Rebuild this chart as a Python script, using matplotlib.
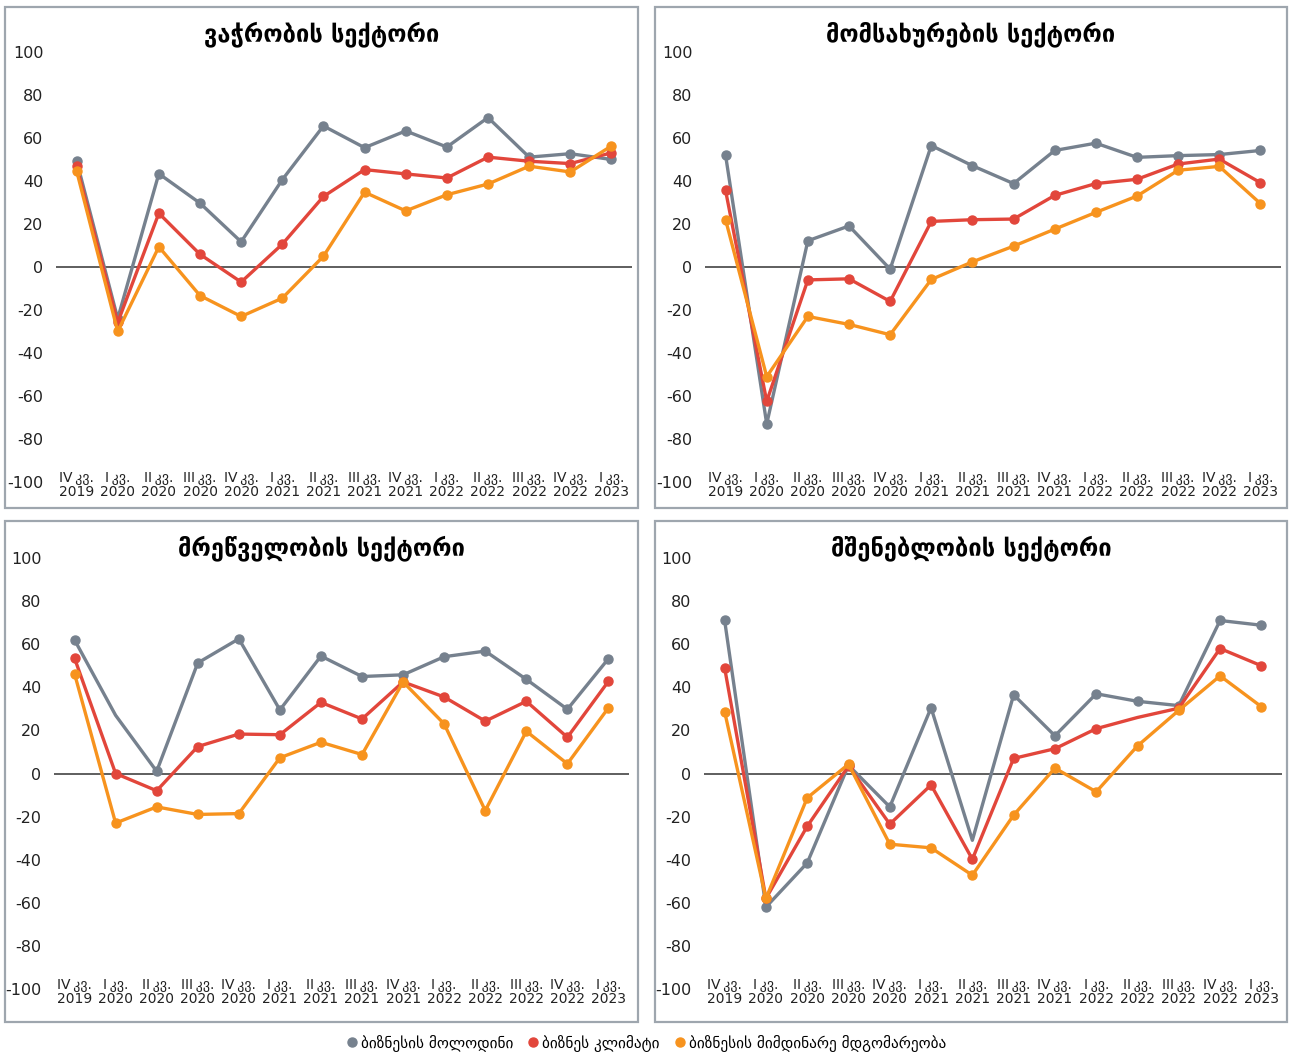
import matplotlib
matplotlib.use("Agg")
import matplotlib.pyplot as plt
from matplotlib.patches import Rectangle
from matplotlib.lines import Line2D

# კატეგორიები (კვარტლები)
kvartlebi = ["IV\u2009კვ.\n2019", "I\u2009კვ.\n2020", "II\u2009კვ.\n2020", "III\u2009კვ.\n2020",
             "IV\u2009კვ.\n2020", "I\u2009კვ.\n2021", "II\u2009კვ.\n2021", "III\u2009კვ.\n2021",
             "IV\u2009კვ.\n2021", "I\u2009კვ.\n2022", "II\u2009კვ.\n2022", "III\u2009კვ.\n2022",
             "IV\u2009კვ.\n2022", "I\u2009კვ.\n2023"]

seriebi = ["ბიზნესის მოლოდინი", "ბიზნეს კლიმატი", "ბიზნესის მიმდინარე მდგომარეობა"]
ferebi = ["#76818e", "#e2463b", "#f7931e"]

sataurebi = ["ვაჭრობის სექტორი", "მომსახურების სექტორი",
             "მრეწველობის სექტორი", "მშენებლობის სექტორი"]

# ვაჭრობა
vachroba_molodini = [49.5, -24, 43.4, 29.7, 11.7, 40.6, 65.6, 55.5, 63.3, 55.8, 69.5, 51.1, 52.7, 50]
vachroba_klimati = [46.9, -25.8, 25, 5.9, -7, 10.6, 32.8, 45.3, 43.3, 41.4, 51.1, 49.2, 48.1, 53.1]
vachroba_mdgomareoba = [44.8, -30, 9.4, -13.3, -23, -14.5, 5, 34.8, 26.1, 33.6, 38.6, 46.9, 44.2, 56.3]

# მომსახურება
momsaxureba_molodini = [52, -73, 12.2, 19.1, -1, 56.5, 47.1, 38.8, 54.2, 57.6, 51, 51.8, 52.3, 54.2]
momsaxureba_klimati = [35.6, -62.5, -6, -5.5, -16, 21.2, 22, 22.3, 33.3, 38.8, 40.8, 47.9, 50.2, 39.2]
momsaxureba_mdgomareoba = [22, -51, -23, -26.7, -31.5, -5.8, 2.4, 9.7, 17.6, 25.4, 33, 45, 46.8, 29.5]

# მრეწველობა
mretsveloba_molodini = [62, 27, 1, 51.3, 62.5, 29.5, 54.5, 45, 45.8, 54.2, 56.8, 43.7, 29.8, 53.3]
mretsveloba_klimati = [53.5, 0, -8, 12.5, 18.3, 18, 33, 25.3, 42.5, 35.5, 24.3, 33.5, 16.8, 42.8]
mretsveloba_mdgomareoba = [46.3, -23, -15.5, -19, -18.6, 7.3, 14.5, 8.8, 42.5, 23, -17.2, 19.6, 4.5, 30.5]

# მშენებლობა
msheneobloba_molodini = [71, -62, -41.5, 3.8, -15.5, 30.5, -31, 36.5, 17.5, 37, 33.5, 31.5, 71, 68.8]
msheneobloba_klimati = [49, -58, -24.5, 3.5, -23.5, -5.3, -39.8, 7, 11.5, 20.8, 26, 30.3, 58, 50]
msheneobloba_mdgomareoba = [28.7, -58, -11.3, 4.3, -32.8, -34.5, -47.2, -19.3, 2.5, -8.5, 12.8, 29.3, 45.3, 31]

monacemebi = [
    [vachroba_molodini, vachroba_klimati, vachroba_mdgomareoba],
    [momsaxureba_molodini, momsaxureba_klimati, momsaxureba_mdgomareoba],
    [mretsveloba_molodini, mretsveloba_klimati, mretsveloba_mdgomareoba],
    [msheneobloba_molodini, msheneobloba_klimati, msheneobloba_mdgomareoba],
]

# წერტილები, სადაც ორიგინალში მარკერი არ ჩანს: (პანელი, სერია) -> ინდექსები
gamotovebuli = {(2, 0): [1], (3, 0): [6], (3, 1): [10]}

plt.rcParams['font.family'] = ['DejaVu Sans']
plt.rcParams['axes.unicode_minus'] = False
W, H = 1290, 1057
fig = plt.figure(figsize=(W / 100, H / 100), dpi=100)

# ჩარჩოები (px): x0, y0, x1, y1
charchoebi = [(5, 7, 638, 508), (655, 7, 1287, 508), (5, 521, 638, 1022), (655, 521, 1287, 1022)]
# ღერძები (px): მარცხენა, მარჯვენა, ზედა(100), ქვედა(-100)
gherdzebi = [(56, 632, 52, 482), (705, 1281, 52, 482), (54, 629, 558, 989), (704, 1282, 558, 989)]

for p in range(4):
    x0, y0, x1, y1 = charchoebi[p]
    fig.patches.append(Rectangle((x0 / W, 1 - y1 / H), (x1 - x0) / W, (y1 - y0) / H,
                                 transform=fig.transFigure, fill=False,
                                 edgecolor="#9ea6ae", linewidth=1.6))
    fig.text((x0 + x1) / 2 / W, 1 - (y0 + 27) / H, sataurebi[p], ha="center", va="center",
             fontsize=17, fontweight="bold", color="black")

    l, r, t, b = gherdzebi[p]
    ax = fig.add_axes([l / W, 1 - b / H, (r - l) / W, (b - t) / H])
    ax.patch.set_alpha(0)
    ax.axhline(0, color="#333333", linewidth=1.1, zorder=1)
    n = len(kvartlebi)
    for s in range(3):
        mev = [i for i in range(n) if i not in gamotovebuli.get((p, s), [])]
        ax.plot(range(n), monacemebi[p][s], color=ferebi[s], linewidth=2.4,
                marker="o", markersize=6.5, markevery=mev, zorder=2 + s)
    ax.set_xlim(-0.5, n - 0.5)
    ax.set_ylim(-100, 100)
    ax.set_yticks(range(-100, 101, 20))
    ax.set_xticks(range(n))
    ax.set_xticklabels(kvartlebi, fontsize=10, linespacing=0.95)
    for lbl in ax.get_xticklabels():
        lbl.set_va("center")
    ax.tick_params(axis="x", length=0, pad=2, colors="#222222")
    ax.tick_params(axis="y", length=0, pad=9, labelsize=11.5, colors="#222222")
    for sp in ax.spines.values():
        sp.set_visible(False)

sakhelurebi = [Line2D([], [], color=c, marker="o", linestyle="none", markersize=6.5) for c in ferebi]
fig.legend(sakhelurebi, seriebi, loc="center", bbox_to_anchor=(0.5, 1 - 1043 / H), ncol=3,
           frameon=False, fontsize=11, handletextpad=0.1, columnspacing=0.8, handlelength=1.0)

fig.savefig("out.png", dpi=100)
